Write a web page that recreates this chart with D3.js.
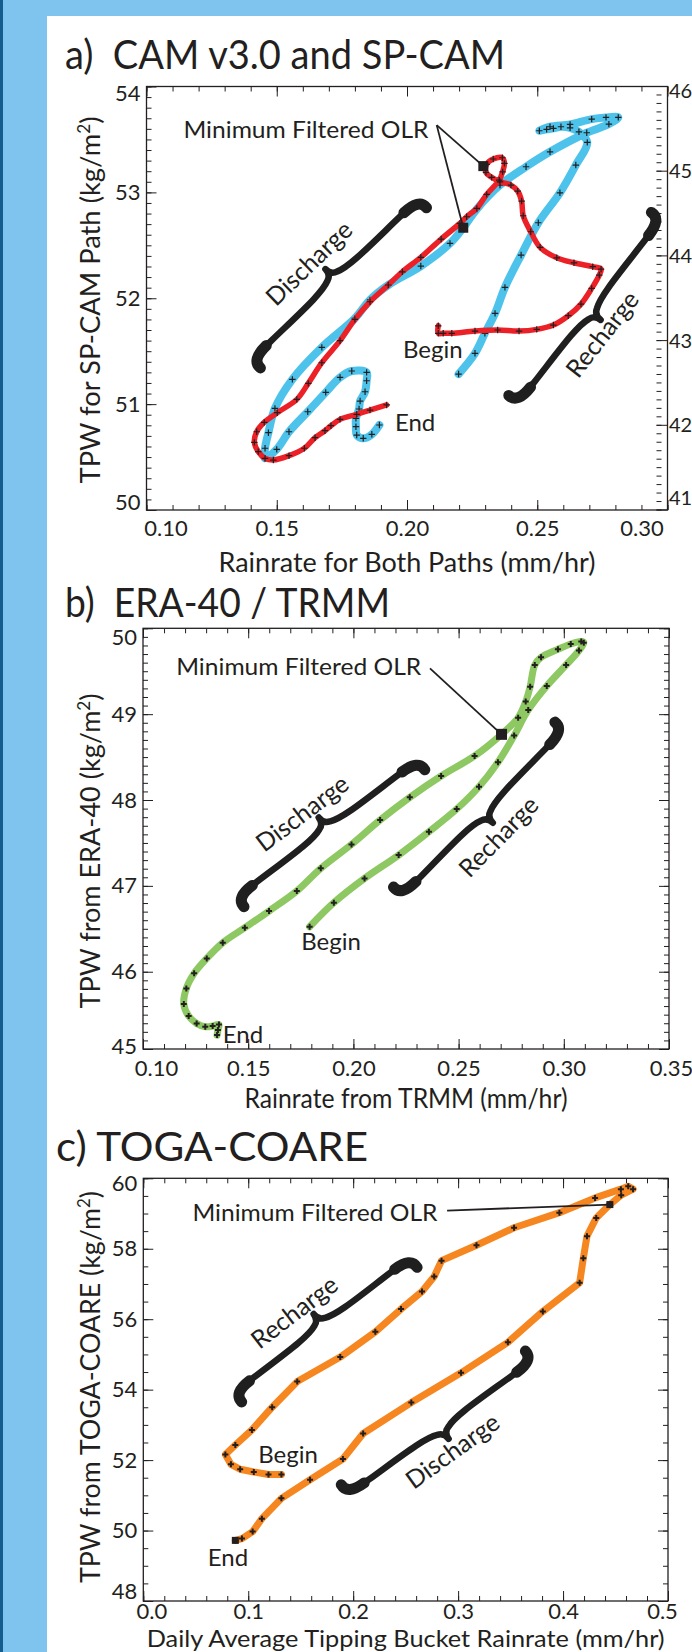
<!DOCTYPE html>
<html>
<head>
<meta charset="utf-8">
<script src="https://cdn.jsdelivr.net/npm/d3@7/dist/d3.min.js"></script>
<style>
html,body{margin:0;padding:0;background:#fff;}
svg{display:block;}
</style>
</head>
<body>
<svg id="chart" width="692" height="1652"></svg>
<script>
// ===================== DATA =====================
// ---- panel a : CAM v3.0 and SP-CAM ----
const aTitle = "a)  CAM v3.0 and SP-CAM";
const aXTicks = [0.10, 0.15, 0.20, 0.25, 0.30];
const aYTicks = [50, 51, 52, 53, 54];
const aY2Ticks = [41, 42, 43, 44, 45, 46];
const aXLabel = "Rainrate for Both Paths (mm/hr)";
const aYLabel = "TPW for SP-CAM Path";
// SP-CAM path (blue): [rainrate, TPW]
const aSpcam = [
 [0.2198,51.284],[0.2261,51.480],[0.2299,51.669],[0.2338,51.857],[0.2376,52.103],[0.2438,52.408],
 [0.2504,52.713],[0.2587,52.996],[0.2648,53.258],[0.2692,53.472],[0.2660,53.572],[0.2626,53.610],
 [0.2591,53.620],[0.2562,53.604],[0.2536,53.595],[0.2508,53.582],[0.2549,53.620],[0.2626,53.642],
 [0.2709,53.692],[0.2764,53.708],[0.2811,53.708],[0.2775,53.645],[0.2690,53.563],[0.2549,53.383],
 [0.2457,53.242],[0.2357,53.069],[0.2268,52.842],[0.2216,52.666],[0.2165,52.518],[0.2053,52.304],
 [0.1929,52.126],[0.1858,51.985],[0.1800,51.810],[0.1673,51.536],[0.1560,51.234],[0.1493,50.960],
 [0.1468,50.730],[0.1455,50.583],[0.1455,50.488],[0.1500,50.573],[0.1547,50.739],[0.1619,50.928],
 [0.1688,51.111],[0.1743,51.253],[0.1788,51.313],[0.1845,51.300],[0.1845,51.221],[0.1839,51.117],
 [0.1820,51.029],[0.1816,50.954],[0.1804,50.866],[0.1804,50.787],[0.1807,50.708],[0.1832,50.677],
 [0.1865,50.715],[0.1894,50.803]
];
// CAM v3.0 path (red)
const aCam = [
 [0.2120,51.740],[0.2120,51.669],[0.2139,51.669],[0.2172,51.669],[0.2261,51.690],[0.2348,51.700],
 [0.2430,51.690],[0.2498,51.706],[0.2562,51.747],[0.2619,51.835],[0.2668,51.945],[0.2709,52.093],
 [0.2738,52.219],[0.2745,52.276],[0.2713,52.298],[0.2641,52.335],[0.2575,52.382],[0.2511,52.481],
 [0.2475,52.628],[0.2446,52.779],[0.2440,52.918],[0.2425,53.012],[0.2399,53.069],[0.2357,53.100],
 [0.2325,53.142],[0.2303,53.189],[0.2306,53.265],[0.2331,53.315],[0.2366,53.327],[0.2374,53.274],
 [0.2367,53.194],[0.2354,53.116],[0.2306,52.981],[0.2268,52.849],[0.2229,52.770],[0.2203,52.707],
 [0.2131,52.559],[0.2053,52.386],[0.1982,52.250],[0.1928,52.125],[0.1858,51.967],[0.1800,51.800],
 [0.1743,51.599],[0.1673,51.391],[0.1621,51.196],[0.1577,51.045],[0.1502,50.919],[0.1452,50.828],
 [0.1423,50.739],[0.1414,50.639],[0.1429,50.551],[0.1455,50.488],[0.1487,50.472],[0.1547,50.513],
 [0.1606,50.583],[0.1647,50.683],[0.1685,50.749],[0.1708,50.796],[0.1743,50.856],[0.1807,50.904],
 [0.1858,50.944],[0.1922,50.992]
];
const aMinOlr = [[0.2293,53.248],[0.2216,52.666]];
const aOlrText = [0.1142,53.510];
const aOlrFrom = [0.2114,53.635];
const aBraces = [
 {a:[0.1426,51.355], b:[0.2070,52.883], label:[0.1624,52.330], text:"Discharge"},
 {a:[0.2397,51.056], b:[0.2950,52.802], label:[0.2750,51.660], text:"Recharge"}
];
const aBegin = [0.2099,51.512], aEnd = [0.2031,50.826];

// ---- panel b : ERA-40 / TRMM ----
const bTitle = "b)  ERA-40 / TRMM";
const bXTicks = [0.10, 0.15, 0.20, 0.25, 0.30, 0.35];
const bYTicks = [45, 46, 47, 48, 49, 50];
const bXLabel = "Rainrate from TRMM (mm/hr)";
const bYLabel = "TPW from ERA-40";
const bEra = [
 [0.1792,46.524],[0.1907,46.804],[0.2053,47.087],[0.2215,47.359],[0.2359,47.631],[0.2491,47.895],
 [0.2597,48.155],[0.2687,48.439],[0.2764,48.750],[0.2831,49.049],[0.2919,49.328],[0.3011,49.573],
 [0.3072,49.740],[0.3095,49.833],[0.3083,49.845],[0.3033,49.817],[0.2972,49.755],[0.2892,49.662],
 [0.2862,49.573],[0.2840,49.320],[0.2819,49.146],[0.2783,48.959],[0.2704,48.765],[0.2576,48.513],
 [0.2417,48.280],[0.2268,48.031],[0.2127,47.767],[0.1991,47.483],[0.1845,47.204],[0.1731,46.940],
 [0.1599,46.707],[0.1484,46.513],[0.1379,46.338],[0.1303,46.155],[0.1243,45.981],[0.1206,45.806],
 [0.1194,45.623],[0.1217,45.483],[0.1255,45.398],[0.1296,45.359],[0.1331,45.367],[0.1361,45.386],
 [0.1356,45.320],[0.1352,45.262]
];
const bMinOlr = [[0.2704,48.765]];
const bOlrText = [0.1158,49.456];
const bOlrFrom = [0.2364,49.534];
const bBraces = [
 {a:[0.1467,46.777], b:[0.2335,48.388], label:[0.1757,47.845], text:"Discharge"},
 {a:[0.2197,46.951], b:[0.2972,48.893], label:[0.2690,47.573], text:"Recharge"}
];
const bBegin = [0.1894,46.350], bEnd = [0.1475,45.262];

// ---- panel c : TOGA-COARE ----
const cTitle = "c) TOGA-COARE";
const cXTicks = [0.0, 0.1, 0.2, 0.3, 0.4, 0.5];
const cYTicks = [48, 50, 52, 54, 56, 58, 60];
const cXLabel = "Daily Average Tipping Bucket Rainrate (mm/hr)";
const cYLabel = "TPW from TOGA-COARE";
const cToga = [
 [0.1316,51.592],[0.1193,51.592],[0.1053,51.662],[0.0923,51.741],[0.0835,51.881],[0.0782,52.159],
 [0.0877,52.428],[0.1035,52.856],[0.1228,53.502],[0.1467,54.229],[0.1877,54.925],[0.2211,55.642],
 [0.2456,56.289],[0.2656,56.786],[0.2772,57.214],[0.2842,57.662],[0.3175,58.100],[0.3533,58.597],
 [0.3965,59.025],[0.4305,59.443],[0.4551,59.692],[0.4621,59.771],[0.4667,59.692],[0.4554,59.522],
 [0.4446,59.254],[0.4316,58.876],[0.4228,58.358],[0.4193,57.731],[0.4158,57.035],[0.3807,56.219],
 [0.3474,55.343],[0.3028,54.478],[0.2554,53.632],[0.2095,52.756],[0.1902,52.030],[0.1589,51.443],
 [0.1316,50.915],[0.1130,50.338],[0.1042,49.970],[0.0940,49.771],[0.0877,49.721]
];
const cMinOlr = [[0.4446,59.254]];
const cEndMark = [[0.0877,49.721]];
const cOlrText = [0.0468,58.788];
const cOlrFrom = [0.2895,59.085];
const cBraces = [
 {a:[0.0912,53.701], b:[0.2600,57.560], label:[0.1440,56.200], text:"Recharge"},
 {a:[0.1895,51.214], b:[0.3667,55.045], label:[0.2947,52.259], text:"Discharge"}
];
const cBegin = [0.1379,52.159], cEnd = [0.0807,49.224];

// ===================== STYLE / LAYOUT =====================
const FONT = "Lato, 'Open Sans', sans-serif";
const INK = "#231f20";
const svg = d3.select("#chart");
svg.append("rect").attr("width",692).attr("height",1652).attr("fill","#7fc4ee");
svg.append("rect").attr("width",3).attr("height",1652).attr("fill","#155d8d");
svg.append("rect").attr("x",47).attr("y",16).attr("width",645).attr("height",1636).attr("fill","#ffffff");

function styleAxis(g, fs){
  g.select(".domain").remove();
  g.attr("font-family",null).attr("font-size",null);
  g.selectAll("line").attr("stroke",INK).attr("stroke-width",1);
  g.selectAll("text").attr("fill",INK).style("font-family",FONT).style("font-size",(fs||22)+"px");
  return g;
}

function bracePath(A,B,L0,m,d,part){
  const dx=B[0]-A[0], dy=B[1]-A[1], L=Math.hypot(dx,dy);
  const ux=dx/L, uy=dy/L; let nx=-uy, ny=ux;
  const mx=(A[0]+B[0])/2, my=(A[1]+B[1])/2;
  if ((L0[0]-mx)*nx+(L0[1]-my)*ny<0){nx=-nx;ny=-ny;}
  const P=(u,v)=>(A[0]+ux*u*L+nx*v).toFixed(1)+","+(A[1]+uy*u*L+ny*v).toFixed(1);
  if (part==="ends"){
    return "M"+P(0.005,-3)+"Q"+P(0,m)+" "+P(0.09,m)+"M"+P(0.995,-3)+"Q"+P(1,m)+" "+P(0.91,m);
  }
  return "M"+P(0,-2)+"Q"+P(0,m)+" "+P(0.12,m)+"C"+P(0.3,m)+" "+P(0.42,m-1)+" "+P(0.47,m+4)
        +"Q"+P(0.5,m+6)+" "+P(0.5,d)+"Q"+P(0.5,m+6)+" "+P(0.53,m+4)
        +"C"+P(0.58,m-1)+" "+P(0.7,m)+" "+P(0.88,m)+"Q"+P(1,m)+" "+P(1,-2);
}

function drawPanel(o){
  const g = svg.append("g");
  const B = o.box;
  const x = d3.scaleLinear().domain(o.xDomain).range([B.l,B.r]);
  const y = d3.scaleLinear().domain(o.yDomain).range([B.b,B.t]).clamp(true);

  // title
  g.append("text").attr("x",o.titleX).attr("y",o.titleY).attr("fill",INK)
    .attr("textLength",o.titleLen).attr("lengthAdjust","spacingAndGlyphs")
    .style("white-space","pre").attr("xml:space","preserve")
    .style("font-family",FONT).style("font-size","41px").text(o.title);

  // frame
  g.append("rect").attr("x",B.l).attr("y",B.t).attr("width",B.r-B.l).attr("height",B.b-B.t)
    .attr("fill","none").attr("stroke",INK).attr("stroke-width",1.3);

  const xMinor = d3.range(o.xDomain[0], o.xDomain[1]+1e-9, o.xMinorStep);
  const yMinor = d3.range(Math.ceil(o.yDomain[0]/o.yMinorStep-1e-6)*o.yMinorStep, o.yDomain[1]+1e-9, o.yMinorStep);

  // bottom
  styleAxis(g.append("g").attr("transform",`translate(0,${B.b})`)
    .call(d3.axisBottom(x).tickValues(xMinor).tickSize(-5).tickFormat(()=>"")));
  const xb = styleAxis(g.append("g").attr("transform",`translate(0,${B.b})`)
    .call(d3.axisBottom(x).tickValues(o.xTicks).tickSize(-10).tickPadding(o.xPad).tickFormat(d3.format(o.xFmt))));
  xb.selectAll(".tick text").attr("x",(d,i,n)=> i===0 ? o.xShift[0] : (i===n.length-1 ? o.xShift[1] : 0));
  // top
  styleAxis(g.append("g").attr("transform",`translate(0,${B.t})`)
    .call(d3.axisTop(x).tickValues(xMinor).tickSize(-5).tickFormat(()=>"")));
  styleAxis(g.append("g").attr("transform",`translate(0,${B.t})`)
    .call(d3.axisTop(x).tickValues(o.xTicks).tickSize(-10).tickFormat(()=>"")));
  // left
  styleAxis(g.append("g").attr("transform",`translate(${B.l},0)`)
    .call(d3.axisLeft(y).tickValues(yMinor).tickSize(-5).tickFormat(()=>"")));
  const yl = styleAxis(g.append("g").attr("transform",`translate(${B.l},0)`)
    .call(d3.axisLeft(y).tickValues(o.yTicks).tickSize(-10).tickPadding(6).tickFormat(d3.format("d"))));
  yl.selectAll(".tick text").attr("y",(d,i,n)=> i===0 ? o.yShift[0] : (i===n.length-1 ? o.yShift[1] : 0));
  // right
  if (o.y2){
    const y2 = d3.scaleLinear().domain(o.y2.domain).range([B.b,B.t]);
    const y2Minor = d3.range(o.y2.domain[0], o.y2.domain[1]+1e-9, 0.1);
    g.append("g").selectAll("line").data(y2Minor).join("line")
      .attr("x1",B.r-11).attr("x2",B.r-6).attr("y1",d=>y2(d)).attr("y2",d=>y2(d))
      .attr("stroke",INK).attr("stroke-width",1);
    g.append("g").selectAll("line").data(o.y2.ticks).join("line")
      .attr("x1",B.r-11).attr("x2",B.r).attr("y1",d=>y2(d)).attr("y2",d=>y2(d))
      .attr("stroke",INK).attr("stroke-width",1);
    const yr = styleAxis(g.append("g").attr("transform",`translate(${B.r},0)`)
      .call(d3.axisRight(y2).tickValues(o.y2.ticks).tickSize(0).tickPadding(1.5).tickFormat(d3.format("d"))), 20);
    yr.selectAll(".tick text").attr("y",(d,i,n)=> i===0 ? -12 : (i===n.length-1 ? 5 : 0));
  } else {
    styleAxis(g.append("g").attr("transform",`translate(${B.r},0)`)
      .call(d3.axisRight(y).tickValues(yMinor).tickSize(-5).tickFormat(()=>"")));
    styleAxis(g.append("g").attr("transform",`translate(${B.r},0)`)
      .call(d3.axisRight(y).tickValues(o.yTicks).tickSize(-10).tickFormat(()=>"")));
  }

  // axis titles
  g.append("text").attr("x",(B.l+B.r)/2).attr("y",o.xLabelY).attr("text-anchor","middle")
    .attr("fill",INK).attr("textLength",o.xLabelLen).attr("lengthAdjust","spacingAndGlyphs")
    .style("font-family",FONT).style("font-size",o.xLabelFs+"px").text(o.xLabel);
  const yt = g.append("text").attr("transform",`translate(${o.yLabelX},${o.yLabelCY}) rotate(-90)`)
    .attr("text-anchor","middle").attr("fill",INK)
    .attr("textLength",o.yLabelLen).attr("lengthAdjust","spacingAndGlyphs")
    .style("font-family",FONT).style("font-size","27px");
  yt.append("tspan").text(o.yLabel + " (kg/m");
  yt.append("tspan").attr("dy",-10).style("font-size","17px").text("2");
  yt.append("tspan").attr("dy",10).text(")");

  // braces
  o.braces.forEach(br=>{
    const A=[x(br.a[0]),y(br.a[1])], Bp=[x(br.b[0]),y(br.b[1])], Lp=[x(br.label[0]),y(br.label[1])];
    g.append("path").attr("d",bracePath(A,Bp,Lp,9,23,"all")).attr("fill","none")
      .attr("stroke","#1f1f1f").attr("stroke-width",6.5).attr("stroke-linecap","round").attr("stroke-linejoin","round");
    g.append("path").attr("d",bracePath(A,Bp,Lp,9,23,"ends")).attr("fill","none")
      .attr("stroke","#1f1f1f").attr("stroke-width",11).attr("stroke-linecap","round");
    const ang = Math.atan2(Bp[1]-A[1], Bp[0]-A[0])*180/Math.PI;
    g.append("text").attr("transform",`translate(${Lp[0]},${Lp[1]}) rotate(${ang})`)
      .attr("text-anchor","middle").attr("dy","0.35em").attr("fill",INK)
      .style("font-family",FONT).style("font-size","25px").text(br.text);
  });

  // series
  const line = d3.line().x(d=>x(d[0])).y(d=>y(d[1]));
  o.series.forEach(s=>{
    line.curve(s.smooth ? d3.curveCatmullRom.alpha(0.5) : d3.curveLinear);
    g.append("path").datum(s.data).attr("d",line).attr("fill","none")
      .attr("stroke",s.color).attr("stroke-width",s.width)
      .attr("stroke-linejoin","round").attr("stroke-linecap","round");
    const h = s.cross;
    g.append("g").selectAll("path").data(s.data).join("path")
      .attr("transform",d=>`translate(${x(d[0])},${y(d[1])})`)
      .attr("d",`M${-h},0H${h}M0,${-h}V${h}`)
      .attr("stroke",INK).attr("stroke-width",s.crossW).attr("fill","none");
  });

  // minimum OLR annotation
  const F=[x(o.olrFrom[0]),y(o.olrFrom[1])];
  o.minOlr.forEach(p=>{
    g.append("line").attr("x1",F[0]).attr("y1",F[1]).attr("x2",x(p[0])).attr("y2",y(p[1]))
      .attr("stroke",INK).attr("stroke-width",1.8);
  });
  g.append("g").selectAll("rect").data(o.minOlr).join("rect")
    .attr("x",d=>x(d[0])-o.sq/2).attr("y",d=>y(d[1])-o.sq/2).attr("width",o.sq).attr("height",o.sq)
    .attr("fill","#231f20");
  if (o.extraMarks){
    g.append("g").selectAll("rect").data(o.extraMarks).join("rect")
      .attr("x",d=>x(d[0])-3.5).attr("y",d=>y(d[1])-3.5).attr("width",7).attr("height",7).attr("fill","#231f20");
  }
  g.append("text").attr("x",x(o.olrText[0])).attr("y",y(o.olrText[1])).attr("fill",INK)
    .attr("textLength",o.olrLen).attr("lengthAdjust","spacingAndGlyphs")
    .style("font-family",FONT).style("font-size","24px").text("Minimum Filtered OLR");

  // begin / end
  [[o.begin,"Begin"],[o.end,"End"]].forEach(([p,t])=>{
    g.append("text").attr("x",x(p[0])).attr("y",y(p[1])).attr("dy","0.35em")
      .attr("text-anchor","middle").attr("fill",INK)
      .style("font-family",FONT).style("font-size","24px").text(t);
  });
}

drawPanel({
  box:{l:146.5,r:667.5,t:86.5,b:510},
  xDomain:[0.10,0.30], yDomain:[50,54], xMinorStep:0.01, yMinorStep:0.1,
  xTicks:aXTicks, yTicks:aYTicks, xFmt:".2f", xPad:10, xShift:[19,-26], yShift:[-8,7],
  y2:{domain:[41,46], ticks:aY2Ticks},
  title:aTitle, titleX:65, titleY:69, titleLen:440,
  xLabel:aXLabel, xLabelLen:377, xLabelY:572, xLabelFs:26,
  yLabel:aYLabel, yLabelLen:367, yLabelX:100, yLabelCY:300,
  braces:aBraces,
  series:[
    {data:aSpcam, color:"#4dc3ec", width:8, smooth:true, cross:3.2, crossW:1.2},
    {data:aCam, color:"#ec2027", width:5.5, smooth:true, cross:3.2, crossW:1.2}
  ],
  minOlr:aMinOlr, sq:10, olrFrom:aOlrFrom, olrText:aOlrText, olrLen:245,
  begin:aBegin, end:aEnd
});

drawPanel({
  box:{l:143,r:669,t:628.3,b:1049},
  xDomain:[0.10,0.35], yDomain:[45.1,50], xMinorStep:0.01, yMinorStep:0.1,
  xTicks:bXTicks, yTicks:bYTicks, xFmt:".2f", xPad:11, xShift:[13,2], yShift:[-3,9],
  title:bTitle, titleX:65, titleY:617, titleLen:325,
  xLabel:bXLabel, xLabelLen:323, xLabelY:1108, xLabelFs:26,
  yLabel:bYLabel, yLabelLen:315, yLabelX:100, yLabelCY:851,
  braces:bBraces,
  series:[
    {data:bEra, color:"#8dc862", width:7, smooth:true, cross:3, crossW:2}
  ],
  minOlr:bMinOlr, sq:11, olrFrom:bOlrFrom, olrText:bOlrText, olrLen:245,
  begin:bBegin, end:bEnd
});

drawPanel({
  box:{l:143.3,r:668,t:1178.3,b:1601},
  xDomain:[0,0.5], yDomain:[48,60], xMinorStep:0.02, yMinorStep:0.5,
  xTicks:cXTicks, yTicks:cYTicks, xFmt:".1f", xPad:2, xShift:[8,-6], yShift:[-10,5],
  title:cTitle, titleX:56, titleY:1161, titleLen:312,
  xLabel:cXLabel, xLabelLen:518, xLabelY:1647, xLabelFs:24,
  yLabel:cYLabel, yLabelLen:392, yLabelX:100, yLabelCY:1387,
  braces:cBraces,
  series:[
    {data:cToga, color:"#f6861f", width:7, smooth:false, cross:3, crossW:2}
  ],
  minOlr:cMinOlr, sq:7, olrFrom:cOlrFrom, olrText:cOlrText, olrLen:245,
  extraMarks:cEndMark,
  begin:cBegin, end:cEnd
});
</script>
</body>
</html>
